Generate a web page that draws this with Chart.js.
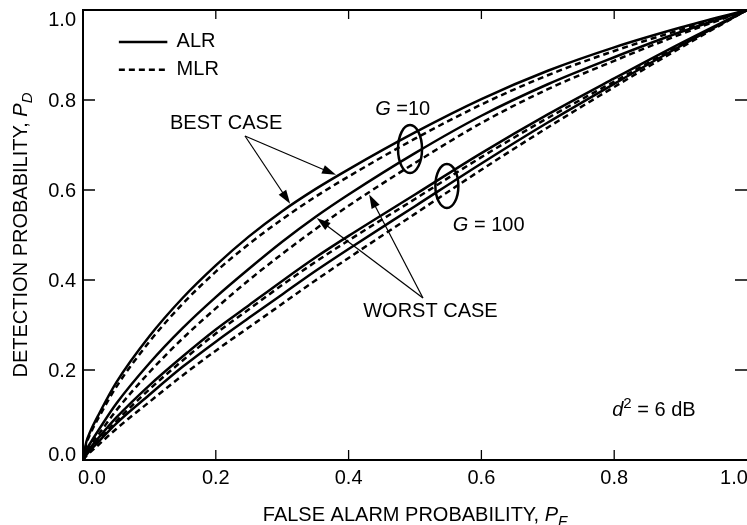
<!DOCTYPE html>
<html>
<head>
<meta charset="utf-8">
<script src="https://cdn.jsdelivr.net/npm/chart.js@4.4.1/dist/chart.umd.min.js"></script>
<style>
  html, body { margin: 0; padding: 0; background: #fff; }
  #wrap { width: 747px; height: 525px; position: relative; }
</style>
</head>
<body>
<div id="wrap"><canvas id="roc" width="747" height="525"></canvas></div>
<script>
// False alarm probability samples shared by every curve
const falseAlarm = [0, 0.005, 0.01, 0.025, 0.05, 0.1, 0.15, 0.2, 0.25, 0.3, 0.35, 0.4, 0.5, 0.6, 0.7, 0.8, 0.9, 1.0];

// G = 10
const g10BestALR  = [0, 0.04, 0.06, 0.105, 0.172, 0.275, 0.36, 0.4325, 0.497, 0.553, 0.602, 0.646, 0.728, 0.802, 0.865, 0.917, 0.961, 1];
const g10BestMLR  = [0, 0.035, 0.055, 0.098, 0.162, 0.263, 0.347, 0.4185, 0.48, 0.535, 0.585, 0.63, 0.714, 0.79, 0.855, 0.909, 0.956, 1];
const g10WorstALR = [0, 0.022, 0.035, 0.07, 0.125, 0.215, 0.293, 0.362, 0.425, 0.485, 0.54, 0.59, 0.682, 0.765, 0.835, 0.895, 0.951, 1];
const g10WorstMLR = [0, 0.018, 0.03, 0.06, 0.11, 0.195, 0.27, 0.337, 0.40, 0.458, 0.513, 0.565, 0.66, 0.749, 0.824, 0.887, 0.946, 1];

// G = 100
const g100BestALR  = [0, 0.014, 0.025, 0.052, 0.094, 0.166, 0.23, 0.29, 0.344, 0.398, 0.45, 0.498, 0.59, 0.682, 0.768, 0.848, 0.926, 1];
const g100BestMLR  = [0, 0.011, 0.021, 0.046, 0.086, 0.157, 0.221, 0.281, 0.335, 0.389, 0.44, 0.488, 0.58, 0.673, 0.76, 0.841, 0.922, 1];
const g100WorstALR = [0, 0.011, 0.02, 0.043, 0.081, 0.145, 0.207, 0.263, 0.316, 0.368, 0.42, 0.469, 0.564, 0.659, 0.75, 0.836, 0.92, 1];
const g100WorstMLR = [0, 0.009, 0.016, 0.036, 0.069, 0.129, 0.188, 0.243, 0.295, 0.347, 0.399, 0.449, 0.547, 0.645, 0.739, 0.829, 0.916, 1];

const tickLabels = ['0.0', '0.2', '0.4', '0.6', '0.8', '1.0'];

const FONT = '"Liberation Sans", Arial, Helvetica, sans-serif';
const SOLID = [];
const DASH = [6, 4];

function series(label, ys, dash) {
  return {
    label,
    data: falseAlarm.map((x, i) => ({ x, y: ys[i] })),
    borderColor: '#000',
    borderWidth: 2.5,
    borderDash: dash,
    pointRadius: 0,
    fill: false,
    cubicInterpolationMode: 'monotone'
  };
}

// detection probability of a curve at a given false alarm value
function valueAt(ys, x) {
  for (let i = 1; i < falseAlarm.length; i++) {
    if (x <= falseAlarm[i]) {
      const t = (x - falseAlarm[i - 1]) / (falseAlarm[i] - falseAlarm[i - 1]);
      return ys[i - 1] + t * (ys[i] - ys[i - 1]);
    }
  }
  return ys[ys.length - 1];
}

// Text made of runs: italic letters, sub- and superscripts
function drawRuns(ctx, runs, x, y, align) {
  let total = 0;
  const widths = runs.map(r => {
    ctx.font = (r.italic ? 'italic ' : '') + (r.size || 20) + 'px ' + FONT;
    const w = ctx.measureText(r.t).width;
    total += w;
    return w;
  });
  let cx = align === 'center' ? x - total / 2 : x;
  runs.forEach((r, i) => {
    ctx.font = (r.italic ? 'italic ' : '') + (r.size || 20) + 'px ' + FONT;
    ctx.fillText(r.t, cx, y + (r.dy || 0));
    cx += widths[i];
  });
}

function arrow(ctx, x0, y0, x1, y1) {
  const ang = Math.atan2(y1 - y0, x1 - x0);
  const len = 14, half = 4.5;
  ctx.beginPath();
  ctx.moveTo(x0, y0);
  ctx.lineTo(x1 - Math.cos(ang) * len * 0.8, y1 - Math.sin(ang) * len * 0.8);
  ctx.lineWidth = 1.2;
  ctx.stroke();
  ctx.beginPath();
  ctx.moveTo(x1, y1);
  ctx.lineTo(x1 - Math.cos(ang) * len + Math.sin(ang) * half, y1 - Math.sin(ang) * len - Math.cos(ang) * half);
  ctx.lineTo(x1 - Math.cos(ang) * len - Math.sin(ang) * half, y1 - Math.sin(ang) * len + Math.cos(ang) * half);
  ctx.closePath();
  ctx.fill();
}

const decorations = {
  id: 'decorations',
  afterDraw(chart) {
    const { ctx, chartArea: a, scales } = chart;
    const xs = scales.x, ys = scales.y;
    const px = v => xs.getPixelForValue(v);
    const py = v => ys.getPixelForValue(v);
    ctx.save();
    ctx.fillStyle = '#000';
    ctx.strokeStyle = '#000';
    ctx.setLineDash([]);

    // frame: left, bottom and top edges
    ctx.lineWidth = 2;
    ctx.beginPath();
    ctx.moveTo(a.right + 2, a.top);
    ctx.lineTo(a.left, a.top);
    ctx.lineTo(a.left, a.bottom);
    ctx.lineTo(a.right + 2, a.bottom);
    ctx.stroke();

    // inward ticks
    ctx.lineWidth = 1.3;
    xs.ticks.forEach(t => {
      if (t.value <= 0 || t.value >= 1) return;
      const x = px(t.value);
      ctx.beginPath();
      ctx.moveTo(x, a.bottom); ctx.lineTo(x, a.bottom - 10);
      ctx.moveTo(x, a.top); ctx.lineTo(x, a.top + 9);
      ctx.stroke();
    });
    ys.ticks.forEach(t => {
      if (t.value <= 0 || t.value >= 1) return;
      const y = py(t.value);
      ctx.beginPath();
      ctx.moveTo(a.left, y); ctx.lineTo(a.left + 12, y);
      ctx.moveTo(a.right, y); ctx.lineTo(a.right - 12, y);
      ctx.stroke();
    });

    // tick labels
    ctx.font = '20px ' + FONT;
    ctx.textBaseline = 'alphabetic';
    ys.ticks.forEach((t, i) => {
      const y = py(t.value);
      ctx.textAlign = 'right';
      let base = y + 7;
      if (i === 0) base = y + 1;
      if (i === ys.ticks.length - 1) base = y + 16;
      ctx.fillText(tickLabels[i], a.left - 7, base);
    });
    xs.ticks.forEach((t, i) => {
      let x = px(t.value);
      ctx.textAlign = 'center';
      if (i === 0) x += 9;
      if (i === xs.ticks.length - 1) x -= 13;
      ctx.fillText(tickLabels[i], x, a.bottom + 24);
    });

    // axis titles
    ctx.textAlign = 'left';
    drawRuns(ctx, [
      { t: 'FALSE ALARM PROBABILITY, ' },
      { t: 'P', italic: true },
      { t: 'F', italic: true, size: 15, dy: 5 }
    ], (a.left + a.right) / 2, 521, 'center');

    ctx.save();
    ctx.translate(27, (a.top + a.bottom) / 2);
    ctx.rotate(-Math.PI / 2);
    drawRuns(ctx, [
      { t: 'DETECTION PROBABILITY, ' },
      { t: 'P', italic: true },
      { t: 'D', italic: true, size: 15, dy: 5 }
    ], 0, 0, 'center');
    ctx.restore();

    // legend
    ctx.lineWidth = 2.5;
    ctx.beginPath();
    ctx.moveTo(px(0.054), py(0.929)); ctx.lineTo(px(0.127), py(0.929));
    ctx.stroke();
    ctx.setLineDash(DASH);
    ctx.beginPath();
    ctx.moveTo(px(0.054), py(0.867)); ctx.lineTo(px(0.127), py(0.867));
    ctx.stroke();
    ctx.setLineDash([]);
    ctx.font = '20px ' + FONT;
    ctx.textBaseline = 'middle';
    ctx.fillText('ALR', px(0.141), py(0.929));
    ctx.fillText('MLR', px(0.141), py(0.867));

    // case labels with arrows pointing at their curves
    ctx.fillText('BEST CASE', px(0.131), py(0.747));
    arrow(ctx, px(0.244), py(0.72), px(0.312), py(valueAt(g10BestALR, 0.312)) - 2);
    arrow(ctx, px(0.244), py(0.72), px(0.381), py(valueAt(g10BestALR, 0.381)) - 2);

    ctx.fillText('WORST CASE', px(0.422), py(0.33));
    arrow(ctx, px(0.512), py(0.36), px(0.352), py(valueAt(g10WorstALR, 0.352)) + 2);
    arrow(ctx, px(0.512), py(0.36), px(0.431), py(valueAt(g10WorstMLR, 0.431)) + 2);

    // gain groups
    drawRuns(ctx, [{ t: 'G', italic: true }, { t: ' =10' }], px(0.44), py(0.778), 'left');
    drawRuns(ctx, [{ t: 'G', italic: true }, { t: ' = 100' }], px(0.557), py(0.522), 'left');

    ctx.lineWidth = 2.5;
    ctx.beginPath();
    ctx.ellipse(px(0.4925), py(0.691), 12, 24, 0, 0, Math.PI * 2);
    ctx.stroke();
    ctx.beginPath();
    ctx.ellipse(px(0.548), py(0.609), 11.5, 22, 0, 0, Math.PI * 2);
    ctx.stroke();

    // signal-to-noise note
    drawRuns(ctx, [
      { t: 'd', italic: true },
      { t: '2', size: 15, dy: -6 },
      { t: ' = 6 dB' }
    ], px(0.797), py(0.111), 'left');

    ctx.restore();
  }
};

new Chart(document.getElementById('roc'), {
  type: 'line',
  data: {
    datasets: [
      series('G=10 best ALR', g10BestALR, SOLID),
      series('G=10 best MLR', g10BestMLR, DASH),
      series('G=10 worst ALR', g10WorstALR, SOLID),
      series('G=10 worst MLR', g10WorstMLR, DASH),
      series('G=100 best ALR', g100BestALR, SOLID),
      series('G=100 best MLR', g100BestMLR, DASH),
      series('G=100 worst ALR', g100WorstALR, SOLID),
      series('G=100 worst MLR', g100WorstMLR, DASH)
    ]
  },
  options: {
    responsive: false,
    animation: false,
    devicePixelRatio: 1,
    layout: { padding: { top: 10, right: 0, left: 0, bottom: 0 } },
    plugins: { legend: { display: false }, tooltip: { enabled: false } },
    scales: {
      x: {
        type: 'linear', min: 0, max: 1,
        ticks: { display: false, stepSize: 0.2 },
        grid: { display: false },
        border: { display: false },
        afterFit: s => { s.height = 65; }
      },
      y: {
        type: 'linear', min: 0, max: 1,
        ticks: { display: false, stepSize: 0.2 },
        grid: { display: false },
        border: { display: false },
        afterFit: s => { s.width = 83; }
      }
    }
  },
  plugins: [decorations]
});
</script>
</body>
</html>
